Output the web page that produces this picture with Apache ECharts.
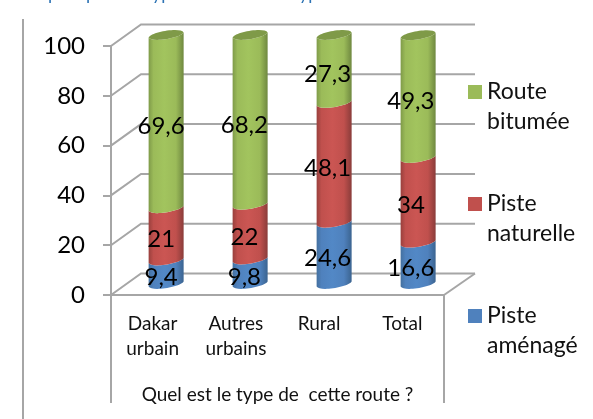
<!DOCTYPE html>
<html><head><meta charset="utf-8">
<style>html,body{margin:0;padding:0;background:#fff}#c{width:593px;height:419px}</style>
<script src="https://cdn.jsdelivr.net/npm/echarts@6/dist/echarts.min.js"></script></head>
<body><div id="c"></div>
<script>
const categories = ['Dakar\nurbain','Autres\nurbains','Rural','Total'];
const pisteAmenagee = [9.4, 9.8, 24.6, 16.6];
const pisteNaturelle = [21, 22, 48.1, 34];
const routeBitumee = [69.6, 68.2, 27.3, 49.3];
const yTicks = [0,20,40,60,80,100];
const axisTitle = 'Quel est le type de  cette route ?';
const FONT = 'Lato';
const GREY = '#a6a6a6';

const depthX = 30, depthY = -21.5, barDX = 13.5, barDrift = 0.75, barDY = -11, labelDX = 8.5, halfW = 17.5, tilt = 2.5, bulge = 5.5;

function grad(edgeL, mid, light, edgeR){
  return new echarts.graphic.LinearGradient(0,0,1,0,[
    {offset:0,color:edgeL},{offset:.14,color:mid},{offset:.45,color:light},
    {offset:.78,color:mid},{offset:1,color:edgeR}]);
}
const fills = {
  blue: grad('#44709f','#4f81bd','#5288c6','#3b6490'),
  red: grad('#99403d','#c0504d','#cb5653','#8a3c3a'),
  green: grad('#7f9b49','#9bbb59','#a2c45e','#6f8840')
};
function frontArc(x0,x1,y){ return 'C'+(x0+3)+' '+(y+tilt+bulge)+' '+(x1-3)+' '+(y-tilt+bulge)+' '+x1+' '+(y-tilt); }
function backArc(x0,x1,y){ return 'C'+(x1-3)+' '+(y-tilt-bulge)+' '+(x0+3)+' '+(y+tilt-bulge)+' '+x0+' '+(y+tilt); }

function cylinder(fill, isTop){
  return function(params, api){
    const i = api.value(0);
    const pb = api.coord([i, api.value(1)]), pt = api.coord([i, api.value(2)]);
    const cx = pb[0]+barDX+barDrift*i, yb = pb[1]+barDY, yt = pt[1]+barDY;
    const x0 = cx-halfW, x1 = cx+halfW;
    const d = 'M'+x0+' '+(yt+tilt)+frontArc(x0,x1,yt)+'L'+x1+' '+(yb-tilt)+
      'C'+(x1-3)+' '+(yb-tilt+bulge)+' '+(x0+3)+' '+(yb+tilt+bulge)+' '+x0+' '+(yb+tilt)+'Z';
    const kids = [{type:'path',shape:{pathData:d},style:{fill:fill}}];
    if(isTop){
      const c = 'M'+x0+' '+(yt+tilt)+frontArc(x0,x1,yt)+backArc(x0,x1,yt)+'Z';
      kids.push({type:'path',shape:{pathData:c},style:{fill:'#7f9a48'}});
    }
    kids.push({type:'text',z2:50,style:{
      x:pb[0]+labelDX,y:(yb+yt)/2+5,text:String(api.value(3)).replace('.',','),
      font:'24px '+FONT,fill:'#000',align:'center',verticalAlign:'middle'}});
    return {type:'group',children:kids};
  };
}
function stack(lower, vals){
  return vals.map((v,i)=>[i, lower[i], lower[i]+v, v]);
}
const zero = [0,0,0,0];
const blueData = stack(zero, pisteAmenagee);
const top1 = blueData.map(d=>d[2]);
const redData = stack(top1, pisteNaturelle);
const top2 = redData.map(d=>d[2]);
const greenData = stack(top2, routeBitumee);

function wall(params, api){
  const p = api.coord([0, api.value(1)]);
  const cs = params.coordSys, l = cs.x, r = cs.x+cs.width, y = p[1];
  return {type:'polyline',shape:{points:[[l,y],[l+depthX,y+depthY],[r+depthX+1,y+depthY]]},
    style:{stroke:GREY,lineWidth:2,fill:null}};
}
function floorEdge(params, api){
  const cs = params.coordSys, r = cs.x+cs.width, y = cs.y+cs.height;
  return {type:'group',children:[
    {type:'line',shape:{x1:r,y1:y,x2:r+depthX+1,y2:y+depthY},style:{stroke:GREY,lineWidth:2}},
    {type:'line',shape:{x1:cs.x,y1:y,x2:cs.x,y2:y+108},style:{stroke:GREY,lineWidth:2}},
    {type:'line',shape:{x1:r,y1:y,x2:r,y2:y+108},style:{stroke:GREY,lineWidth:2}}
  ]};
}
const customBase = {type:'custom',coordinateSystem:'cartesian2d',clip:false,silent:true,encode:{x:0,y:1}};

const clippedTitle = ['p','p','yp','yp'];
const clippedTitleX = [48,86,152,299];

const chart = echarts.init(document.getElementById('c'),null,{renderer:'canvas'});
chart.setOption({
  animation:false,
  grid:{left:111,top:46,width:333,height:249},
  legend:{
    orient:'vertical',left:463,top:42,itemWidth:14,itemHeight:14,itemGap:22,
    icon:'rect',selectedMode:false,
    data:['Route bitumée','Piste naturelle','Piste aménagée'],
    formatter:n=>'\n'+n.replace(' ','\n'),
    textStyle:{fontFamily:FONT,fontSize:23,color:'#111',lineHeight:30}
  },
  xAxis:{type:'category',data:categories,
    axisLine:{lineStyle:{color:GREY,width:2}},
    axisTick:{length:67,lineStyle:{color:GREY,width:2}},
    axisLabel:{fontFamily:FONT,fontSize:19,color:'#111',lineHeight:25,margin:16,interval:0},
    name:axisTitle,nameLocation:'middle',nameGap:90,
    nameTextStyle:{fontFamily:FONT,fontSize:19,color:'#111'}},
  yAxis:{type:'value',min:0,max:100,interval:20,splitLine:{show:false},
    axisLine:{show:true,lineStyle:{color:GREY,width:2}},
    axisTick:{show:true,length:8,lineStyle:{color:GREY,width:2}},
    axisLabel:{fontFamily:FONT,fontSize:24,color:'#000',margin:26}},
  series:[
    Object.assign({},customBase,{name:'wall',z:1,data:yTicks.map(t=>[0,t]),renderItem:wall}),
    Object.assign({},customBase,{name:'frame',z:1,data:[[0,0]],renderItem:floorEdge}),
    Object.assign({},customBase,{name:'Piste aménagée',z:3,itemStyle:{color:'#4f81bd'},data:blueData,renderItem:cylinder(fills.blue,false)}),
    Object.assign({},customBase,{name:'Piste naturelle',z:4,itemStyle:{color:'#c0504d'},data:redData,renderItem:cylinder(fills.red,false)}),
    Object.assign({},customBase,{name:'Route bitumée',z:5,itemStyle:{color:'#9bbb59'},data:greenData,renderItem:cylinder(fills.green,true)})
  ],
  graphic:[
    {type:'line',z:0,shape:{x1:23,y1:19,x2:23,y2:419},style:{stroke:GREY,lineWidth:2}},
    {type:'rect',z:100,shape:{x:578,y:330,width:15,height:40},style:{fill:'#fff'}}
  ].concat(clippedTitle.map((t,i)=>({type:'text',x:clippedTitleX[i],y:-15,
    style:{text:t,font:'18px '+FONT,fill:'#2e74b5',verticalAlign:'top'}})))
});
</script></body></html>
